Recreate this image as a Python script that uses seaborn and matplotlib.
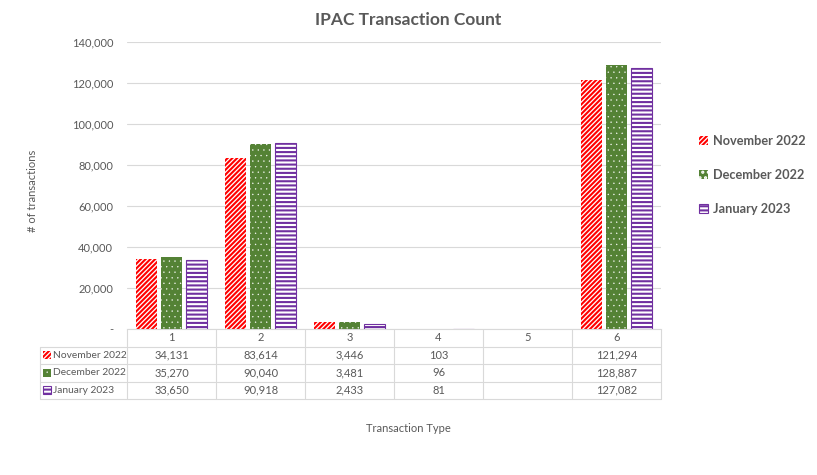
import numpy as np
import pandas as pd
import matplotlib
matplotlib.use("Agg")
import matplotlib.pyplot as plt
import seaborn as sns
from matplotlib.patches import Patch, Rectangle
from matplotlib.lines import Line2D

# ---------------- data ----------------
categories = ["1", "2", "3", "4", "5", "6"]
series_names = ["November 2022", "December 2022", "January 2023"]
nov = [34131, 83614, 3446, 103, None, 121294]
dec = [35270, 90040, 3481, 96, None, 128887]
jan = [33650, 90918, 2433, 81, None, 127082]
y_ticks = [0, 20000, 40000, 60000, 80000, 100000, 120000, 140000]
y_tick_labels = ["-", "20,000", "40,000", "60,000", "80,000", "100,000", "120,000", "140,000"]
title = "IPAC Transaction Count"
x_label = "Transaction Type"
y_label = "# of transactions"

series_values = [nov, dec, jan]

# ---------------- styles ----------------
GRAY = "#595959"
GRID = "#d9d9d9"
styles = [
    dict(face="white", edge="#ff0000", hatch="///////", hlw=1.5, lw=0),
    dict(face="#548235", edge="white", hatch="...", hlw=0.2, lw=0),
    dict(face="white", edge="#7030a0", hatch="----", hlw=1.5, lw=0.8),
]

sns.set_theme(style="white")
plt.rcParams['font.family'] = ['Lato', 'DejaVu Sans']
plt.rcParams['hatch.linewidth'] = 1.5

rows = []
for name, vals in zip(series_names, series_values):
    for cat, v in zip(categories, vals):
        if v is not None:
            rows.append({"type": cat, "series": name, "count": v})
df = pd.DataFrame(rows)

fig = plt.figure(figsize=(8.17, 4.75), dpi=100)
ax = fig.add_axes([127 / 817, 146 / 475, 534 / 817, 287 / 475])

sns.barplot(data=df, x="type", y="count", hue="series", order=categories,
            hue_order=series_names, width=0.84, gap=0.15, ax=ax, legend=False,
            palette=["#ff0000", "#548235", "#7030a0"], saturation=1, linewidth=0,
            errorbar=None)


def style_patch(p, st):
    p.set_facecolor(st["face"])
    p.set_edgecolor(st["edge"])
    p.set_hatch(st["hatch"])
    p.set_linewidth(st["lw"])
    if hasattr(p, "set_hatch_linewidth"):
        p.set_hatch_linewidth(st["hlw"])


for cont, st in zip(ax.containers, styles):
    for bar in cont:
        style_patch(bar, st)

ax.set_xlim(-0.5, len(categories) - 0.5)
ax.set_ylim(0, 140000)
ax.set_yticks(y_ticks, y_tick_labels)
ax.yaxis.grid(True, color=GRID, lw=0.8)
ax.set_axisbelow(True)
for s in ["top", "left", "right"]:
    ax.spines[s].set_visible(False)
ax.spines["bottom"].set_color(GRID)
ax.spines["bottom"].set_linewidth(0.8)
ax.tick_params(axis="x", bottom=False, labelbottom=False)
ax.tick_params(axis="y", left=False, length=0, labelsize=8, labelcolor=GRAY, pad=10)
ax.set_xlabel("")
ax.set_ylabel("")

# ---------------- data table ----------------
tr = ax.transAxes
ncol = len(categories)
h = 17.5 / 287
xl = -87 / 534
lkw = dict(color=GRID, lw=0.8, transform=tr, clip_on=False)
for k in range(1, 5):
    ax.add_line(Line2D([xl, 1], [-k * h, -k * h], **lkw))
for i in range(ncol + 1):
    ax.add_line(Line2D([i / ncol, i / ncol], [0, -4 * h], **lkw))
ax.add_line(Line2D([xl, xl], [-h, -4 * h], **lkw))

tkw = dict(transform=tr, ha="center", va="center", fontsize=8, color=GRAY, clip_on=False)
for i, c in enumerate(categories):
    ax.text((i + 0.5) / ncol, -h / 2, c, **tkw)
for r, (name, vals, st) in enumerate(zip(series_names, series_values, styles)):
    yc = -(r + 1.5) * h
    for i, v in enumerate(vals):
        if v is not None:
            ax.text((i + 0.5) / ncol, yc, f"{v:,}", **tkw)
    ax.text(xl + 13 / 534, yc, name, transform=tr, ha="left", va="center",
            fontsize=7.4, color=GRAY, clip_on=False)
    icon = Rectangle((xl + 3 / 534, yc - 4 / 287), 8 / 534, 8 / 287, transform=tr,
                     clip_on=False)
    style_patch(icon, st)
    ax.add_patch(icon)

# ---------------- legend ----------------
handles = []
for st in styles:
    p = Patch()
    style_patch(p, st)
    handles.append(p)
fig.legend(handles, series_names, loc="center left",
           bbox_to_anchor=(694 / 817, 1 - 175 / 475), frameon=False,
           prop=dict(weight="bold", size=9.2), labelcolor=GRAY,
           handlelength=0.7, handleheight=0.7, handletextpad=0.35,
           labelspacing=1.75, borderaxespad=0)

# ---------------- titles ----------------
fig.text(408 / 817, 1 - 20 / 475, title, ha="center", va="center",
         fontsize=12.5, fontweight="bold", color=GRAY)
fig.text(408 / 817, 1 - 428 / 475, x_label, ha="center", va="center",
         fontsize=8, color=GRAY)
fig.text(33 / 817, 1 - 191 / 475, y_label, ha="center", va="center",
         fontsize=8, color=GRAY, rotation=90)

fig.savefig("out.png", dpi=100, facecolor="white")
